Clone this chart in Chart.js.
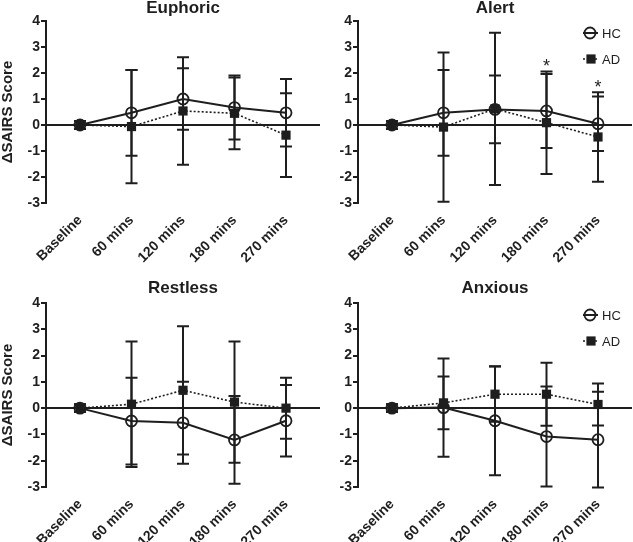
<!DOCTYPE html>
<html>
<head>
<meta charset="utf-8">
<script src="https://cdn.jsdelivr.net/npm/chart.js@4.4.0/dist/chart.umd.min.js"></script>
<style>
html,body{margin:0;padding:0;background:#fff;overflow:hidden;width:633px;height:542px;}
canvas{position:absolute;}
</style>
</head>
<body>
<canvas id="euphoric" width="320" height="266" style="left:0;top:0"></canvas>
<canvas id="alert" width="321" height="266" style="left:312px;top:0"></canvas>
<canvas id="restless" width="320" height="262" style="left:0;top:280px"></canvas>
<canvas id="anxious" width="321" height="262" style="left:312px;top:280px"></canvas>
<script>
// time points
const categories = ['Baseline', '60 mins', '120 mins', '180 mins', '270 mins'];
const seriesNames = ['HC', 'AD'];

// change scores (mean) and error bars
const euphoricHC = [0, 0.47, 1.0, 0.67, 0.47];
const euphoricHCErr = [0.15, 1.65, 1.18, 1.23, 1.3];
const euphoricAD = [0, -0.06, 0.54, 0.45, -0.39];
const euphoricADErr = [0.15, 2.18, 2.07, 1.38, 1.61];

const alertHC = [0, 0.47, 0.6, 0.54, 0.05];
const alertHCErr = [0.15, 1.65, 1.3, 1.42, 1.05];
const alertAD = [0, -0.08, 0.62, 0.09, -0.46];
const alertADErr = [0.15, 2.87, 2.93, 1.97, 1.72];
const alertSig = [false, false, false, true, true];

const restlessHC = [0, -0.49, -0.56, -1.21, -0.48];
const restlessHCErr = [0.15, 1.65, 1.56, 1.67, 1.36];
const restlessAD = [0, 0.15, 0.68, 0.23, 0];
const restlessADErr = [0.15, 2.39, 2.44, 2.31, 1.16];

const anxiousHC = [0, 0.02, -0.48, -1.08, -1.2];
const anxiousHCErr = [0.15, 1.87, 2.07, 1.9, 1.82];
const anxiousAD = [0, 0.2, 0.53, 0.53, 0.14];
const anxiousADErr = [0.15, 1.0, 1.05, 1.2, 0.8];

const INK = '#1e1e1e';
Chart.defaults.font.family = "'Liberation Sans', Arial, Helvetica, sans-serif";
Chart.defaults.color = INK;

const errorBars = {
  id: 'errorBars',
  afterDatasetsDraw(chart){
    const ctx = chart.ctx, xs = chart.scales.x, ys = chart.scales.y;
    ctx.save();
    ctx.strokeStyle = INK; ctx.lineWidth = 2;
    chart.data.datasets.forEach(ds => {
      ds.data.forEach((p, i) => {
        const e = ds.errors[i]; if(!e) return;
        const px = xs.getPixelForValue(p.x);
        const top = ys.getPixelForValue(p.y + e), bot = ys.getPixelForValue(p.y - e);
        ctx.beginPath();
        ctx.moveTo(px, top); ctx.lineTo(px, bot);
        ctx.moveTo(px - 6, top); ctx.lineTo(px + 6, top);
        ctx.moveTo(px - 6, bot); ctx.lineTo(px + 6, bot);
        ctx.stroke();
      });
    });
    ctx.restore();
  }
};

function starPlugin(flags){
  return {
    id: 'sigStars',
    afterDatasetsDraw(chart){
      if(!flags) return;
      const ctx = chart.ctx, xs = chart.scales.x, ys = chart.scales.y;
      ctx.save();
      ctx.fillStyle = INK; ctx.font = "18px 'Liberation Sans', Arial";
      ctx.textAlign = 'center'; ctx.textBaseline = 'alphabetic';
      flags.forEach((f, i) => {
        if(!f) return;
        let hi = -Infinity;
        chart.data.datasets.forEach(ds => { hi = Math.max(hi, ds.data[i].y + (ds.errors[i] || 0)); });
        ctx.fillText('*', xs.getPixelForValue(i), ys.getPixelForValue(hi) + 1);
      });
      ctx.restore();
    }
  };
}

function legendPlugin(show){
  return {
    id: 'sideLegend',
    afterDraw(chart){
      if(!show) return;
      const ctx = chart.ctx, a = chart.chartArea;
      const mx = a.right - 42, tx = a.right - 30;
      ctx.save();
      ctx.strokeStyle = INK; ctx.fillStyle = INK;
      ctx.font = "13px 'Liberation Sans', Arial"; ctx.textBaseline = 'middle'; ctx.textAlign = 'left';
      chart.data.datasets.forEach((ds, k) => {
        const y = a.top + 12 + k * 26;
        ctx.lineWidth = ds.borderWidth;
        ctx.setLineDash(ds.borderDash || []);
        ctx.beginPath(); ctx.moveTo(mx - 7, y); ctx.lineTo(mx + 8, y); ctx.stroke();
        ctx.setLineDash([]);
        if(ds.pointStyle === 'circle'){
          ctx.lineWidth = ds.pointBorderWidth;
          ctx.beginPath(); ctx.arc(mx, y, ds.pointRadius, 0, Math.PI * 2); ctx.stroke();
        } else {
          const s = ds.pointRadius * Math.SQRT1_2;
          ctx.fillRect(mx + 1 - s, y - s, 2 * s, 2 * s);
        }
        ctx.fillText(ds.label, tx, y + 1);
      });
      ctx.restore();
    }
  };
}

function makePanel(id, title, hc, hcErr, ad, adErr, cfg){
  const el = document.getElementById(id);
  new Chart(el, {
    type: 'line',
    data: {
      datasets: [
        {label: seriesNames[0], data: hc.map((v, i) => ({x: i, y: v})), errors: hcErr, order: 1,
         borderColor: INK, borderWidth: 2, pointStyle: 'circle', pointRadius: 5.5,
         pointBorderWidth: 1.8, pointBorderColor: INK, pointBackgroundColor: 'rgba(0,0,0,0)'},
        {label: seriesNames[1], data: ad.map((v, i) => ({x: i, y: v})), errors: adErr, order: 0,
         borderColor: INK, borderWidth: 1.6, borderDash: [2, 2], pointStyle: 'rect', pointRadius: 6.5,
         pointBorderWidth: 0, pointBackgroundColor: INK}
      ]
    },
    options: {
      responsive: false, animation: false,
      layout: {autoPadding: false, padding: {left: 0, right: cfg.padRight, top: 0, bottom: 0}},
      plugins: {
        legend: {display: false}, tooltip: {enabled: false},
        title: {display: true, fullSize: false, text: title, color: INK,
                font: {size: 17, weight: 'bold', lineHeight: 1}, padding: {top: 0, bottom: cfg.titleGap}}
      },
      scales: {
        x: {
          type: 'linear', min: -0.66, max: 4.66,
          afterBuildTicks: s => { s.ticks = categories.map((c, i) => ({value: i})); },
          afterFit: s => { s.height = cfg.xHeight; s.paddingLeft = 0; s.paddingRight = 0; },
          grid: {display: false}, border: {display: false},
          ticks: {callback: v => categories[v], minRotation: 45, maxRotation: 45, autoSkip: false,
                  padding: 1, color: INK, font: {size: 14, weight: 'bold'}}
        },
        y: {
          min: -3, max: 4,
          afterFit: s => { s.width = 46; },
          border: {display: true, color: INK, width: 2},
          grid: {color: c => c.tick && c.tick.value === 0 ? INK : 'rgba(0,0,0,0)', lineWidth: 2,
                 tickColor: INK, tickWidth: 2, tickLength: 5},
          ticks: {stepSize: 1, padding: 1, color: INK, font: {size: 14, weight: 'bold'}},
          title: {display: cfg.yTitle, text: '\u0394SAIRS Score', color: INK, padding: 0,
                  font: {size: 15, weight: 'bold', lineHeight: 1.05}}
        }
      }
    },
    plugins: [errorBars, starPlugin(cfg.stars), legendPlugin(cfg.legend)]
  });
}

makePanel('euphoric', 'Euphoric', euphoricHC, euphoricHCErr, euphoricAD, euphoricADErr,
  {yTitle: true, legend: false, titleGap: 4, padRight: 0, xHeight: 63});
makePanel('alert', 'Alert', alertHC, alertHCErr, alertAD, alertADErr,
  {yTitle: false, legend: true, titleGap: 4, padRight: 1, xHeight: 63, stars: alertSig});
makePanel('restless', 'Restless', restlessHC, restlessHCErr, restlessAD, restlessADErr,
  {yTitle: true, legend: false, titleGap: 6, padRight: 0, xHeight: 55});
makePanel('anxious', 'Anxious', anxiousHC, anxiousHCErr, anxiousAD, anxiousADErr,
  {yTitle: false, legend: true, titleGap: 6, padRight: 1, xHeight: 55});
</script>
</body>
</html>
